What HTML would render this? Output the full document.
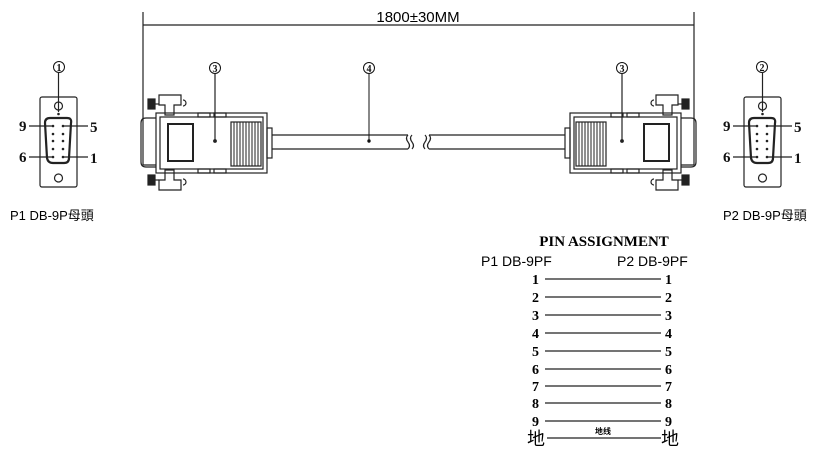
<!DOCTYPE html>
<html><head><meta charset="utf-8"><style>
html,body{margin:0;padding:0;background:#fff;width:830px;height:454px;overflow:hidden}
svg text{font-family:"Liberation Serif","Noto Serif CJK SC",serif}
.s{font-family:"Liberation Sans","Noto Sans CJK TC",sans-serif}
</style></head><body>
<svg width="830" height="454" viewBox="0 0 830 454" xmlns="http://www.w3.org/2000/svg">
<defs>
<g id="conn" fill="none" stroke="#222" stroke-width="1.2">
  <path d="M156 118 H146 Q141 118 141 123 V162 Q141 167 146 167 H156"/>
  <rect x="148" y="99" width="7" height="10" fill="#222"/>
  <rect x="148" y="175" width="7" height="10" fill="#222"/>
  <line x1="155" y1="104" x2="159" y2="104"/><line x1="155" y1="180" x2="159" y2="180"/>
  <path d="M159 95 H181 V105 H174 V115 H165 V105 H159 Z"/>
  <path d="M159 190 H181 V180 H174 V170 H165 V180 H159 Z"/>
  <path d="M183 100 a3 3 0 1 1 0 6"/><path d="M183 179 a3 3 0 1 1 0 6"/>
  <rect x="156" y="113" width="111" height="60"/>
  <rect x="160" y="117" width="103" height="52"/>
  <rect x="198" y="113" width="12" height="4"/><rect x="214" y="113" width="12" height="4"/>
  <rect x="198" y="169" width="12" height="4"/><rect x="214" y="169" width="12" height="4"/>
  <rect x="168" y="124" width="25" height="37" stroke-width="2"/>
  <rect x="231" y="122" width="30" height="44"/>
  <g stroke-width="1">
  <line x1="234" y1="122" x2="234" y2="166"/><line x1="237" y1="122" x2="237" y2="166"/>
  <line x1="240" y1="122" x2="240" y2="166"/><line x1="243" y1="122" x2="243" y2="166"/>
  <line x1="246" y1="122" x2="246" y2="166"/><line x1="249" y1="122" x2="249" y2="166"/>
  <line x1="252" y1="122" x2="252" y2="166"/><line x1="255" y1="122" x2="255" y2="166"/>
  <line x1="258" y1="122" x2="258" y2="166"/></g>
  <rect x="267" y="128" width="5" height="30"/>
  <path d="M272 135 H408 M272 149 H408"/>
  <path d="M408 135 q-3 3 0 7 q3 4 0 7"/><path d="M412 135 q-3 3 0 7 q3 4 0 7"/>
  <path d="M143 12 V165 H156"/>
  <circle cx="215" cy="141" r="1.3" fill="#222"/>
  <line x1="215" y1="74" x2="215" y2="141"/>
</g>
<g id="face" fill="none" stroke="#222" stroke-width="1.2">
  <rect x="0" y="0" width="37" height="90" rx="2"/>
  <circle cx="18.5" cy="9" r="4"/>
  <circle cx="18.5" cy="81" r="4"/>
  <path d="M5 26 Q5 21 10 21 H27 Q32 21 31 26 L29 61 Q29 66 24 66 H13 Q8 66 7 61 Z" stroke-width="2.2"/>
  <g fill="#222" stroke="none">
   <circle cx="13" cy="29" r="1.3"/><circle cx="13" cy="37" r="1.3"/><circle cx="13" cy="44" r="1.3"/><circle cx="13" cy="52" r="1.3"/><circle cx="13" cy="60" r="1.3"/>
   <circle cx="23" cy="29" r="1.3"/><circle cx="23" cy="37" r="1.3"/><circle cx="23" cy="44" r="1.3"/><circle cx="23" cy="52" r="1.3"/><circle cx="23" cy="60" r="1.3"/>
   <circle cx="18.5" cy="17" r="1.3"/>
  </g>
  <line x1="18.5" y1="-25" x2="18.5" y2="15"/>
  <line x1="-11" y1="29" x2="13" y2="29"/><line x1="23" y1="29" x2="48" y2="29"/>
  <line x1="-11" y1="60" x2="13" y2="60"/><line x1="23" y1="60" x2="48" y2="60"/>
</g>
</defs>

<line x1="143" y1="25" x2="694" y2="25" stroke="#222" stroke-width="1.2"/>
<text x="418" y="22" class="s" font-size="15" text-anchor="middle">1800±30MM</text>

<use href="#conn"/>
<use href="#conn" transform="translate(837,0) scale(-1,1)"/>

<g font-size="11" text-anchor="middle" fill="#111" stroke="#111" stroke-width="1">
 <circle cx="215" cy="68" r="5.5" fill="none"/><text x="215" y="72" stroke="none" font-weight="bold" font-size="10">3</text>
 <circle cx="622" cy="68" r="5.5" fill="none"/><text x="622" y="72" stroke="none" font-weight="bold" font-size="10">3</text>
 <circle cx="369" cy="68" r="5.5" fill="none"/><text x="369" y="72" stroke="none" font-weight="bold" font-size="10">4</text>
 <line x1="369" y1="74" x2="369" y2="141"/><circle cx="369" cy="141" r="1.2" fill="#111"/>
 <circle cx="59" cy="67" r="5.5" fill="none"/><text x="59" y="71" stroke="none" font-weight="bold" font-size="10">1</text>
 <circle cx="762" cy="67" r="5.5" fill="none"/><text x="762" y="71" stroke="none" font-weight="bold" font-size="10">2</text>
</g>

<use href="#face" transform="translate(40,97)"/>
<use href="#face" transform="translate(744,97)"/>
<g font-size="15" font-weight="bold" fill="#111">
 <text x="19" y="131">9</text><text x="90" y="132">5</text>
 <text x="19" y="162">6</text><text x="90" y="163">1</text>
 <text x="723" y="131">9</text><text x="794" y="132">5</text>
 <text x="723" y="162">6</text><text x="794" y="163">1</text>
</g>
<text x="10" y="220" class="s" font-size="13">P1 DB-9P母頭</text>
<text x="723" y="220" class="s" font-size="13">P2 DB-9P母頭</text>

<text x="604" y="246" font-size="15" font-weight="bold" text-anchor="middle">PIN  ASSIGNMENT</text>
<text x="481" y="266" class="s" font-size="14">P1 DB-9PF</text>
<text x="617" y="266" class="s" font-size="14">P2 DB-9PF</text>
<g font-size="14" font-weight="bold" stroke="#222" stroke-width="1.2">
 <g stroke="none"><text x="532" y="284">1</text><text x="665" y="284">1</text></g><line x1="545" y1="279" x2="661" y2="279"/>
 <g stroke="none"><text x="532" y="302">2</text><text x="665" y="302">2</text></g><line x1="545" y1="297" x2="661" y2="297"/>
 <g stroke="none"><text x="532" y="320">3</text><text x="665" y="320">3</text></g><line x1="545" y1="315" x2="661" y2="315"/>
 <g stroke="none"><text x="532" y="338">4</text><text x="665" y="338">4</text></g><line x1="545" y1="333" x2="661" y2="333"/>
 <g stroke="none"><text x="532" y="356">5</text><text x="665" y="356">5</text></g><line x1="545" y1="351" x2="661" y2="351"/>
 <g stroke="none"><text x="532" y="374">6</text><text x="665" y="374">6</text></g><line x1="545" y1="369" x2="661" y2="369"/>
 <g stroke="none"><text x="532" y="391">7</text><text x="665" y="391">7</text></g><line x1="545" y1="386" x2="661" y2="386"/>
 <g stroke="none"><text x="532" y="408">8</text><text x="665" y="408">8</text></g><line x1="545" y1="403" x2="661" y2="403"/>
 <g stroke="none"><text x="532" y="426">9</text><text x="665" y="426">9</text></g><line x1="545" y1="421" x2="661" y2="421"/>
 <line x1="547" y1="438" x2="661" y2="438"/>
</g>
<text x="527" y="445" font-size="18" class="s">地</text>
<text x="661" y="445" font-size="18" class="s">地</text>
<text x="603" y="434" font-size="8" font-weight="bold" text-anchor="middle" class="s">地线</text>
</svg>
</body></html>
